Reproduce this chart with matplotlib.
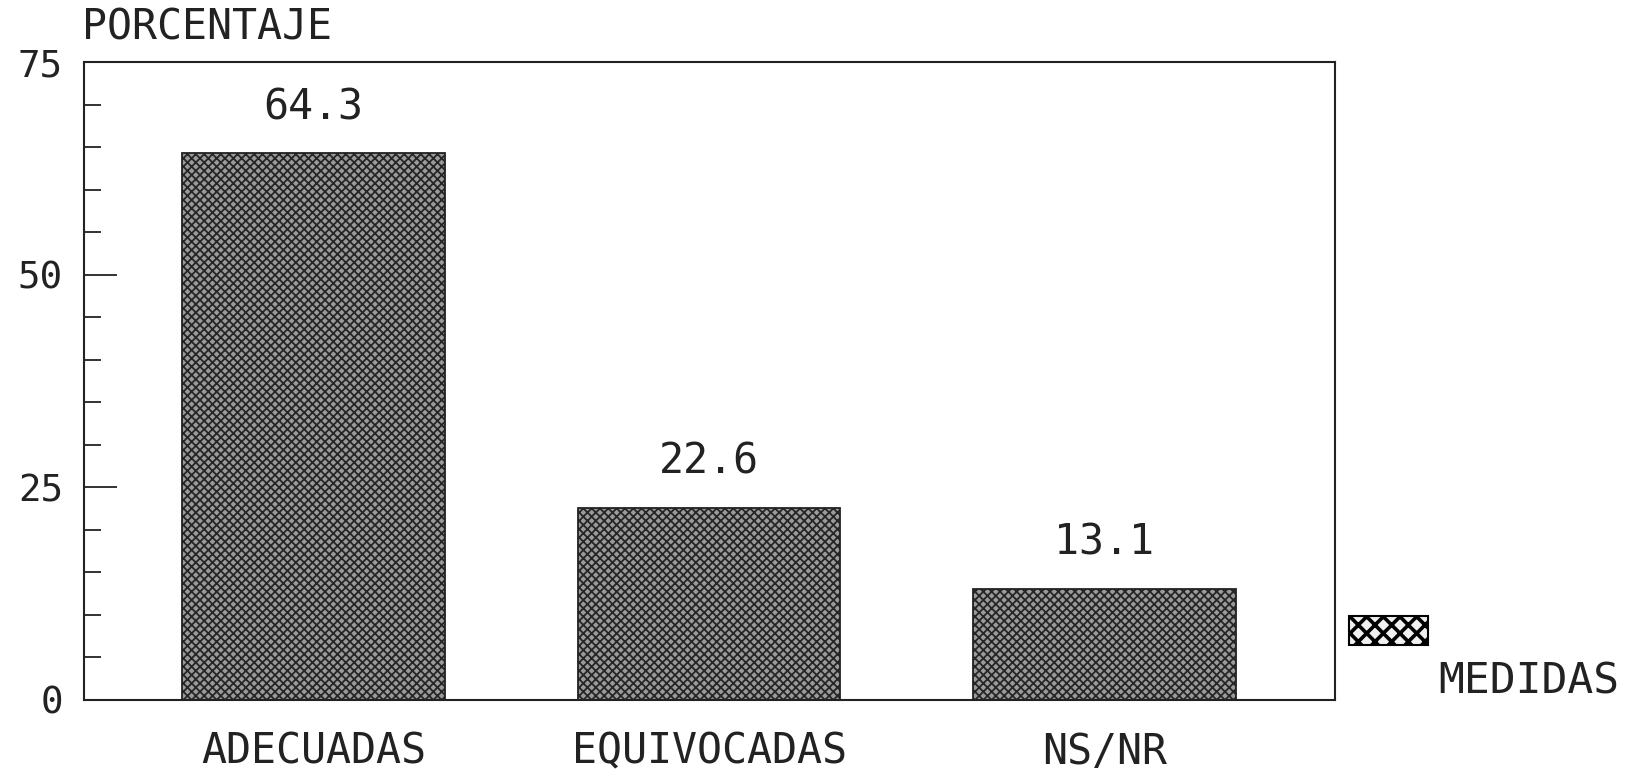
import matplotlib
matplotlib.use("Agg")
import matplotlib.pyplot as plt
from matplotlib.patches import Rectangle

categories = ["ADECUADAS", "EQUIVOCADAS", "NS/NR"]
values = [64.3, 22.6, 13.1]
value_labels = ["64.3", "22.6", "13.1"]
yticks = [0, 25, 50, 75]
minor_yticks = [5, 10, 15, 20, 30, 35, 40, 45, 55, 60, 65, 70]
legend_label = "MEDIDAS"
ylabel = "PORCENTAJE"

plt.rcParams['font.family'] = 'DejaVu Sans Mono'
plt.rcParams['hatch.linewidth'] = 1.3

ink = "#222222"
fig = plt.figure(figsize=(16.37, 7.76), dpi=100)
ax = fig.add_axes([0.0513, 0.098, 0.7642, 0.822])

x = list(range(len(categories)))
w = 0.664
# hatched fill, then a plain outline on top
ax.bar(x, values, width=w, color="#9a9a9a", edgecolor="#262626", hatch="xxxx", linewidth=0)
ax.bar(x, values, width=w, fill=False, edgecolor=ink, linewidth=1.3)

for xi, v, lab in zip(x, values, value_labels):
    ax.annotate(lab, xy=(xi, v), xytext=(0, 33), textcoords="offset points",
                ha="center", va="center", fontsize=30, color=ink)

ax.set_xlim(-0.581, 2.583)
ax.set_ylim(0, 75)
ax.set_xticks(x)
ax.set_xticklabels(categories, fontsize=30, color=ink)
ax.tick_params(axis="x", length=0, pad=22)

ax.set_yticks(yticks)
ax.set_yticks(minor_yticks, minor=True)
ax.set_yticklabels([str(t) for t in yticks], fontsize=27, color=ink)
ax.tick_params(axis="y", which="major", direction="in", length=24, width=1.3, pad=15, colors=ink)
ax.tick_params(axis="y", which="minor", direction="in", length=12, width=1.3, colors=ink)

for s in ax.spines.values():
    s.set_linewidth(1.5)
    s.set_color(ink)

fig.text(82 / 1637, 1 - 28 / 776, ylabel, ha="left", va="center", fontsize=30, color=ink)

# legend: swatch above, label below-right
sw = Rectangle((1349 / 1637, 1 - 645 / 776), 79 / 1637, 29 / 776, transform=fig.transFigure,
               facecolor="#f0f0f0", edgecolor="#000000", hatch="xx", linewidth=0)
if hasattr(sw, "set_hatch_linewidth"):
    sw.set_hatch_linewidth(2.6)
fig.add_artist(sw)
fig.add_artist(Rectangle((1349 / 1637, 1 - 645 / 776), 79 / 1637, 29 / 776, transform=fig.transFigure,
                         fill=False, edgecolor="#000000", linewidth=1.5))
fig.text(1438 / 1637, 1 - 682 / 776, legend_label, ha="left", va="center", fontsize=31, color=ink)

fig.savefig("out.png", dpi=100)
